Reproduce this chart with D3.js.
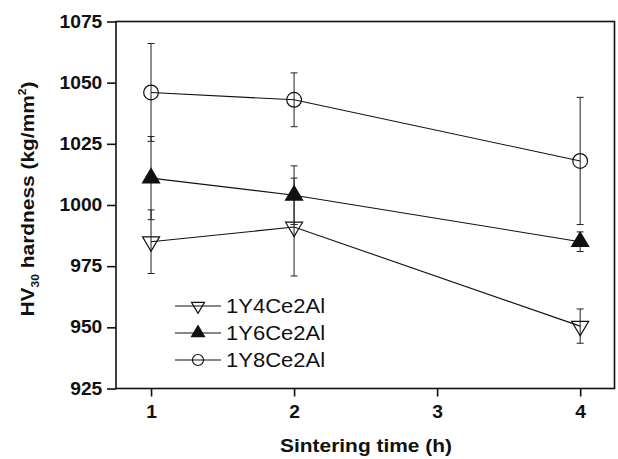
<!DOCTYPE html>
<html><head><meta charset="utf-8">
<script src="https://cdn.jsdelivr.net/npm/d3@7"></script>
<style>
body{margin:0;background:#fff;}
text{font-family:"Liberation Sans",Arial,Helvetica,sans-serif;fill:#111;}
</style></head>
<body><svg id="c" width="618" height="459"></svg>
<script>
const times = [1, 2, 4];
const seriesNames = ["1Y4Ce2Al", "1Y6Ce2Al", "1Y8Ce2Al"];
const hv_1Y4 = [985, 991, 950.5];
const err_1Y4 = [13, 20, 7];
const hv_1Y6 = [1011, 1004, 985];
const err_1Y6 = [17, 12, 4];
const hv_1Y8 = [1046, 1043, 1018];
const err_1Y8 = [20, 11, 26];
const yTicks = [925, 950, 975, 1000, 1025, 1050, 1075];
const xTicks = [1, 2, 3, 4];

const series = [
  {name: seriesNames[0], v: hv_1Y4, e: err_1Y4, sym: "down"},
  {name: seriesNames[1], v: hv_1Y6, e: err_1Y6, sym: "up"},
  {name: seriesNames[2], v: hv_1Y8, e: err_1Y8, sym: "circle"}
];

const L = 116, R = 614.5, T = 21.5, B = 388.5, SX = 1.1;
const svg = d3.select("#c");
const x = d3.scaleLinear().domain([0.755, 4.24]).range([L, R]);
const y = d3.scaleLinear().domain([925, 1075]).range([B, T]);

// frame
svg.append("rect").attr("x", L).attr("y", T).attr("width", R - L).attr("height", B - T)
  .attr("fill", "none").attr("stroke", "#111").attr("stroke-width", 1.6);

// axes
const ya = svg.append("g").attr("transform", `translate(${L},0)`)
  .call(d3.axisLeft(y).tickValues(yTicks).tickSize(9).tickPadding(4).tickFormat(d3.format("d")));
ya.select(".domain").remove();
ya.selectAll(".tick line").attr("stroke", "#111").attr("stroke-width", 1.6);
ya.selectAll(".tick text").attr("font-size", 17.5).attr("font-weight", "bold")
  .attr("x", -13.7 / SX).attr("transform", `scale(${SX},1)`).style("fill", "#111")
  .attr("font-family", "Liberation Sans, Arial, sans-serif");

const xa = svg.append("g").attr("transform", `translate(0,${B})`)
  .call(d3.axisBottom(x).tickValues(xTicks).tickSize(8).tickPadding(9).tickFormat(d3.format("d")));
xa.select(".domain").remove();
xa.selectAll(".tick line").attr("stroke", "#111").attr("stroke-width", 1.6);
xa.selectAll(".tick text").attr("font-size", 17.5).attr("font-weight", "bold")
  .attr("transform", `scale(${SX},1)`).style("fill", "#111")
  .attr("font-family", "Liberation Sans, Arial, sans-serif");

// titles
svg.append("text").attr("transform", `translate(366,451.5) scale(${SX},1)`)
  .attr("text-anchor", "middle").attr("font-size", 19).attr("font-weight", "bold")
  .text("Sintering time (h)");

const yt = svg.append("text").attr("transform", `translate(33.5,199) rotate(-90) scale(${SX},1)`)
  .attr("text-anchor", "middle").attr("font-size", 19).attr("font-weight", "bold");
yt.append("tspan").text("HV");
yt.append("tspan").attr("font-size", 11).attr("dy", 5).text("30");
yt.append("tspan").attr("dy", -5).text(" hardness (kg/mm");
yt.append("tspan").attr("font-size", 11).attr("dy", -8).text("2");
yt.append("tspan").attr("dy", 8).text(")");

function drawSym(g, type, cx, cy, s) {
  if (type === "circle") {
    g.append("circle").attr("cx", cx).attr("cy", cy).attr("r", s * 0.46)
      .attr("fill", "none").attr("stroke", "#111").attr("stroke-width", 1.2);
  } else {
    const w = s, h = s * 0.85;
    const pts = type === "up"
      ? [[cx - w / 2, cy + h / 3], [cx + w / 2, cy + h / 3], [cx, cy - 2 * h / 3]]
      : [[cx - w / 2, cy - h / 3], [cx + w / 2, cy - h / 3], [cx, cy + 2 * h / 3]];
    g.append("path").attr("d", d3.line()(pts) + "Z")
      .attr("fill", type === "up" ? "#111" : "none").attr("stroke", "#111").attr("stroke-width", 1.2)
      .attr("stroke-linejoin", "miter");
  }
}

const plot = svg.append("g");
// error bars
series.forEach(s => {
  s.v.forEach((v, i) => {
    const cx = x(times[i]);
    plot.append("line").attr("x1", cx).attr("x2", cx).attr("y1", y(v - s.e[i])).attr("y2", y(v + s.e[i]))
      .attr("stroke", "#222").attr("stroke-width", 1);
    [v - s.e[i], v + s.e[i]].forEach(val => {
      plot.append("line").attr("x1", cx - 3.5).attr("x2", cx + 3.5).attr("y1", y(val)).attr("y2", y(val))
        .attr("stroke", "#222").attr("stroke-width", 1);
    });
  });
});
// lines
series.forEach(s => {
  plot.append("path").attr("d", d3.line().x((d, i) => x(times[i])).y(d => y(d))(s.v))
    .attr("fill", "none").attr("stroke", "#111").attr("stroke-width", 1.1);
});
// markers
series.forEach(s => {
  s.v.forEach((v, i) => drawSym(plot, s.sym, x(times[i]), y(v), s.sym === "circle" ? 16 : 17));
});

// legend
const legY = [306, 333, 360];
series.forEach((s, i) => {
  const g = svg.append("g");
  g.append("line").attr("x1", 175).attr("x2", 221).attr("y1", legY[i]).attr("y2", legY[i])
    .attr("stroke", "#111").attr("stroke-width", 1.1);
  drawSym(g, s.sym, 198, legY[i], s.sym === "circle" ? 12 : 13);
  g.append("text").attr("transform", `translate(226,${legY[i] + 7}) scale(${SX},1)`)
    .attr("font-size", 20).text(s.name);
});
</script></body></html>
